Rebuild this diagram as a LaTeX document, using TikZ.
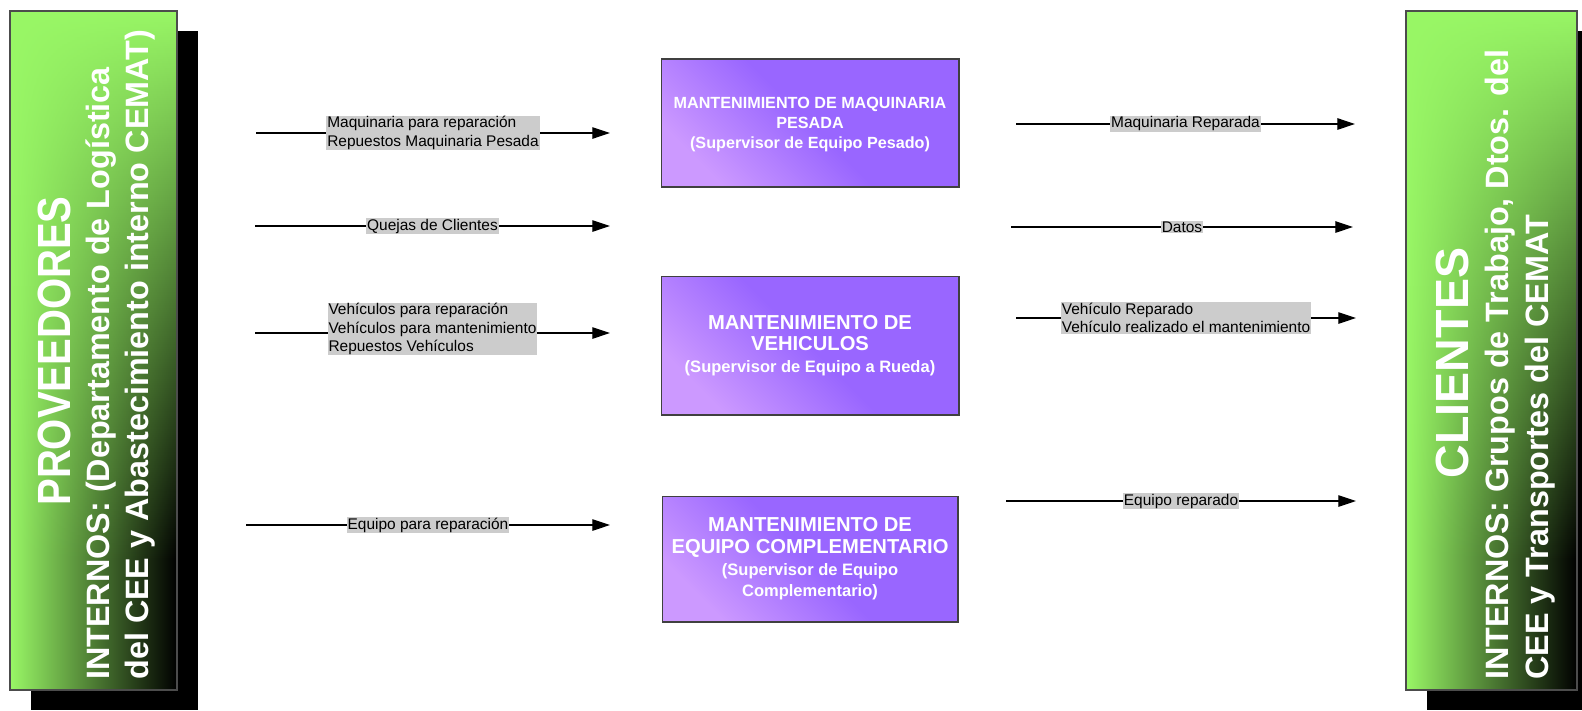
\documentclass[tikz,border=0pt]{standalone}
\usepackage{fontspec}
\setmainfont{Liberation Sans}
\usetikzlibrary{arrows.meta, positioning, fadings}
\definecolor{barlime}{HTML}{99F766}
\definecolor{procviolet}{HTML}{9966FF}
\definecolor{proclilac}{HTML}{CC99FF}
\tikzfading[name=fade bar, top color=transparent!0, bottom color=transparent!100]

\begin{document}
\begin{tikzpicture}[x=0.02cm, y=-0.02cm, node distance=1.7cm]
    \tikzstyle{pbox}=[rectangle, draw=black!75, line width=0.6pt, text=white,
                      align=center, minimum width=5.96cm,
                      top color=procviolet, bottom color=proclilac,
                      middle color=procviolet, shading angle=-45]
    \tikzstyle{flow}=[-{Triangle[length=10pt, width=6.5pt]}, line width=0.6pt]
    \tikzstyle{lbl}=[fill=gray!40, inner sep=0.5pt, align=left,
                     font=\fontsize{8.8}{10.4}\selectfont]
    \tikzstyle{bigttl}=[text=white, inner sep=0pt, rotate=90, anchor=base,
                        font=\bfseries\fontsize{26.5}{30}\selectfont]
    \tikzstyle{barline}=[text=white, inner sep=0pt, rotate=90, anchor=base west,
                         font=\bfseries\fontsize{18.4}{22}\selectfont]

    \useasboundingbox (0,0) rectangle (1582,710);

    % side blocks
    \fill[black] (31,31) rectangle (198,710);
    \shade[left color=barlime, right color=black] (10,11) rectangle (177,690);
    \fill[barlime, path fading=fade bar] (10,11) rectangle (177,560);
    \draw[black!70, line width=0.6pt] (10,11) rectangle (177,690);

    \fill[black] (1427,31) rectangle (1600,710);
    \shade[left color=barlime, right color=black] (1406,11) rectangle (1577,690);
    \fill[barlime, path fading=fade bar] (1406,11) rectangle (1577,560);
    \draw[black!70, line width=0.6pt] (1406,11) rectangle (1577,690);

    \node[bigttl] (prov) at (70,351) {\scalebox{0.86}[1]{PROVEEDORES}};
    \node[barline] (provA) at (109,680) {INTERNOS: (Departamento de Logística};
    \node[barline] (provB) at (148,680) {del CEE y Abastecimiento interno CEMAT)};

    \node[bigttl] (cli) at (1468,363) {CLIENTES};
    \node[barline] (cliA) at (1508,680) {INTERNOS: Grupos de Trabajo, Dtos. del};
    \node[barline] (cliB) at (1548,680) {CEE y Transportes del CEMAT};

    % process boxes
    \node[pbox, minimum height=2.56cm, text depth=0pt,
          font=\bfseries\fontsize{9.2}{11.3}\selectfont]
        (maq) at (810,123)
        {MANTENIMIENTO DE MAQUINARIA\\PESADA\\(Supervisor de Equipo Pesado)};
    \node[pbox, minimum height=2.78cm, below=1.76cm of maq,
          font=\bfseries\fontsize{11.5}{12.3}\selectfont] (veh)
        {MANTENIMIENTO DE\\VEHICULOS\\{\fontsize{9.4}{11}\selectfont (Supervisor de Equipo a Rueda)}};
    \node[pbox, minimum height=2.52cm, minimum width=5.92cm, below=1.6cm of veh,
          font=\bfseries\fontsize{11.5}{12.3}\selectfont] (eqc)
        {MANTENIMIENTO DE\\EQUIPO COMPLEMENTARIO\\{\fontsize{9.4}{10.6}\selectfont (Supervisor de Equipo}\\{\fontsize{9.4}{10.6}\selectfont Complementario)}};

    % inputs
    \coordinate (in1) at (256,133);  \coordinate (in1e) at (610,133);
    \coordinate (in2) at (255,226);  \coordinate (in2e) at (610,226);
    \coordinate (in3) at (255,333);  \coordinate (in3e) at (610,333);
    \coordinate (in4) at (246,525);  \coordinate (in4e) at (610,525);

    \draw[flow] (in1) -- node[lbl] (l1) {Maquinaria para reparación\\Repuestos Maquinaria Pesada} (in1e);
    \draw[flow] (in2) -- node[lbl] (l2) {Quejas de Clientes} (in2e);
    \draw[flow] (in3) -- node[lbl, yshift=2.3pt] (l3) {Vehículos para reparación\\Vehículos para mantenimiento\\Repuestos Vehículos} (in3e);
    \draw[flow] (in4) -- node[lbl] (l4) {Equipo para reparación} (in4e);

    % outputs
    \coordinate (out1) at (1016,124); \coordinate (out1e) at (1355,124);
    \coordinate (out2) at (1011,227); \coordinate (out2e) at (1353,227);
    \coordinate (out3) at (1016,318); \coordinate (out3e) at (1356,318);
    \coordinate (out4) at (1006,501); \coordinate (out4e) at (1356,501);

    \draw[flow] (out1) -- node[lbl] (r1) {Maquinaria Reparada} (out1e);
    \draw[flow] (out2) -- node[lbl] (r2) {Datos} (out2e);
    \draw[flow] (out3) -- node[lbl] (r3) {Vehículo Reparado\\Vehículo realizado el mantenimiento} (out3e);
    \draw[flow] (out4) -- node[lbl] (r4) {Equipo reparado} (out4e);
\end{tikzpicture}
\end{document}
